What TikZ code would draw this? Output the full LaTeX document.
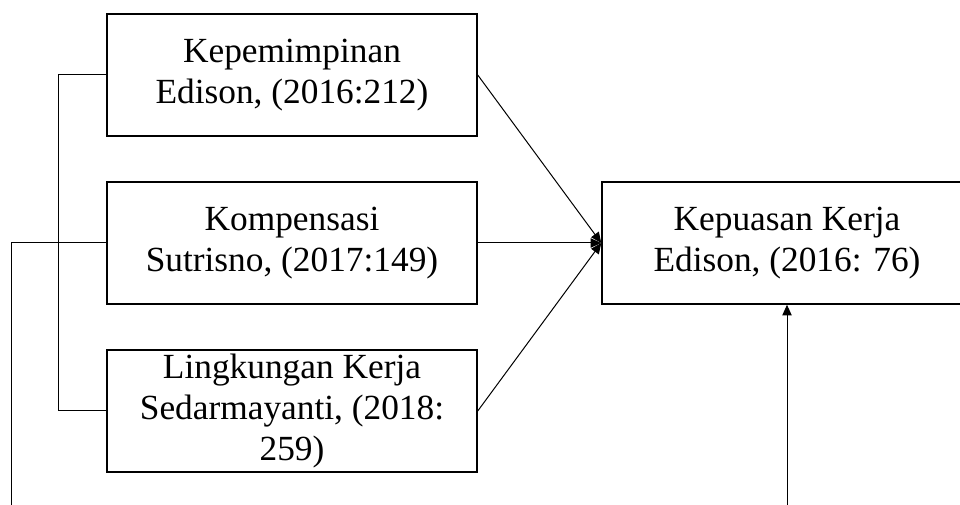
\documentclass[tikz,border=0pt]{standalone}
\usepackage{fontspec}
\setmainfont{Liberation Serif}
\usetikzlibrary{arrows.meta}
\begin{document}
\begin{tikzpicture}[x=0.75pt,y=-0.75pt,
  box/.style={draw=black,line width=1.1pt,rectangle,inner sep=0pt,
    minimum width=277.5pt,minimum height=91.5pt,align=center,
    font=\fontsize{26.5pt}{30.5pt}\selectfont},
  conn/.style={draw=black,line width=0.75pt},
  arr/.style={conn,-{Triangle[length=8pt,width=7pt]}}]
\useasboundingbox (0,0) rectangle (960,505);
\clip (0,0) rectangle (960,505);
\node[box] (b1) at (292,75) {Kepemimpinan\\Edison, (2016:212)};
\node[box] (b2) at (292,243) {Kompensasi\\Sutrisno, (2017:149)};
\node[box] (b3) at (292,411) {Lingkungan Kerja\\Sedarmayanti, (2018:\\259)};
\node[box] (b4) at (787,243) {Kepuasan Kerja\\Edison, (2016: 76)};
\coordinate (lb) at (58,0);
\coordinate (o1) at (11,505);
\coordinate (o2) at (787,505);
\draw[conn] (b1.west) -| (lb |- b3.west) -- (b3.west);
\draw[conn] (b2.west) -| (o1);
\draw[arr] (b1.east) -- (b4.west);
\draw[arr] (b2.east) -- (b4.west);
\draw[arr] (b3.east) -- (b4.west);
\draw[arr] (o2) -- (b4.south);
\end{tikzpicture}
\end{document}
